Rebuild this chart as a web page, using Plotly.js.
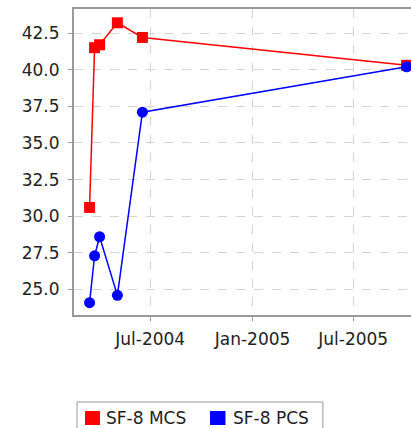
<!DOCTYPE html>
<html>
<head>
<meta charset="utf-8">
<script src="https://cdn.plot.ly/plotly-3.0.1.min.js"></script>
<style>
  html, body { margin: 0; padding: 0; overflow: hidden; background: #fff; }
</style>
</head>
<body>
<div id="myplot" style="width:440px;height:428px;"></div>
<script>
// visit dates and scores
let visitDates = ["2004-03-14", "2004-03-23", "2004-04-01", "2004-05-03", "2004-06-17", "2005-10-05"]
let mcsScores = [30.6, 41.5, 41.7, 43.2, 42.2, 40.3]
let pcsScores = [24.1, 27.3, 28.6, 24.6, 37.1, 40.2]
let seriesNames = ["SF-8 MCS", "SF-8 PCS"]
let seriesColors = ["#ff0000", "#0000ff"]

const fontFam = "DejaVu Sans, sans-serif"

let mcs = {
    x: visitDates,
    y: mcsScores,
    mode: "lines+markers",
    type: "scatter",
    name: seriesNames[0],
    line: {color: seriesColors[0], width: 1.5},
    marker: {symbol: "square", size: 11, color: seriesColors[0]}
}
let pcs = {
    x: visitDates,
    y: pcsScores,
    mode: "lines+markers",
    type: "scatter",
    name: seriesNames[1],
    line: {color: seriesColors[1], width: 1.5},
    marker: {symbol: "circle", size: 11, color: seriesColors[1]}
}

// legend box drawn by hand (square swatches like the original)
let legendShapes = [
    {type: "rect", xref: "paper", yref: "paper", x0: 0.0082, x1: 0.680, y0: -0.42, y1: -0.2843,
        line: {color: "#999999", width: 1}, fillcolor: "#ffffff"},
    {type: "rect", xref: "paper", yref: "paper", x0: 0.0301, x1: 0.0710, y0: -0.3595, y1: -0.3137,
        line: {width: 0}, fillcolor: seriesColors[0]},
    {type: "rect", xref: "paper", yref: "paper", x0: 0.3716, x1: 0.4139, y0: -0.3595, y1: -0.3137,
        line: {width: 0}, fillcolor: seriesColors[1]}
]
let legendTexts = [
    {xref: "paper", yref: "paper", x: 0.0820, y: -0.3366, xanchor: "left", yanchor: "middle",
        text: seriesNames[0], showarrow: false, font: {family: fontFam, size: 17, color: "#222222"}},
    {xref: "paper", yref: "paper", x: 0.4290, y: -0.3366, xanchor: "left", yanchor: "middle",
        text: seriesNames[1], showarrow: false, font: {family: fontFam, size: 17, color: "#222222"}}
]

// the chart is wider than the window, its right side is cut off like in the original
var layout = {
    width: 440,
    height: 428,
    margin: {l: 74, r: 0, t: 9, b: 113, autoexpand: false},
    paper_bgcolor: "#ffffff",
    plot_bgcolor: "#ffffff",
    font: {family: fontFam, size: 17, color: "#222222"},
    showlegend: false,
    xaxis: {
        type: "date",
        range: ["2004-02-15", "2005-12-04"],
        tick0: "2004-01-01",
        dtick: "M6",
        tickformat: "%b-%Y",
        showgrid: true,
        gridcolor: "#d4d4d4",
        griddash: "dash",
        gridwidth: 1,
        showline: true,
        linecolor: "#999999",
        linewidth: 2,
        mirror: true,
        ticks: "outside",
        ticklen: 4,
        tickcolor: "#999999",
        ticklabelstandoff: 4,
        zeroline: false
    },
    yaxis: {
        range: [23.26, 44.14],
        dtick: 2.5,
        tick0: 0,
        tickformat: ".1f",
        showgrid: true,
        gridcolor: "#d4d4d4",
        griddash: "dash",
        gridwidth: 1,
        showline: true,
        linecolor: "#999999",
        linewidth: 2,
        mirror: false,
        ticks: "outside",
        ticklen: 4,
        tickcolor: "#999999",
        ticklabelstandoff: 5,
        zeroline: false
    },
    shapes: legendShapes,
    annotations: legendTexts
}

Plotly.newPlot("myplot", [mcs, pcs], layout, {staticPlot: true})
</script>
</body>
</html>
